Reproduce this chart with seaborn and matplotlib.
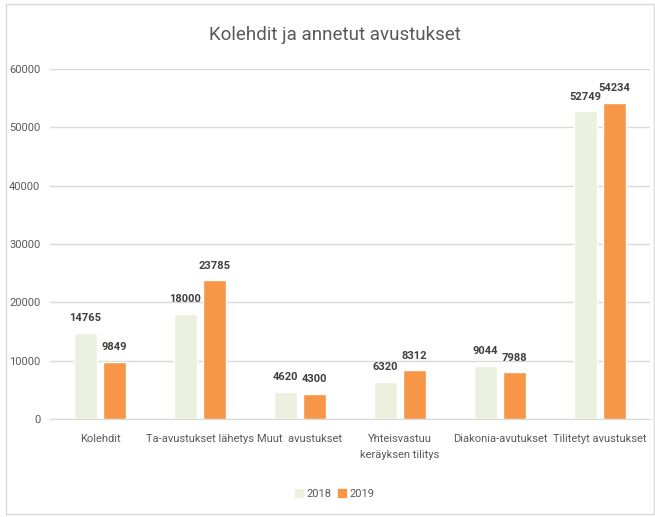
import matplotlib
matplotlib.use('Agg')
import matplotlib.pyplot as plt
import matplotlib.patches as mpatches
from matplotlib import font_manager
import pandas as pd
import seaborn as sns

categories = ["Kolehdit", "Ta-avustukset lähetys", "Muut  avustukset",
              "Yhteisvastuu\nkeräyksen tilitys", "Diakonia-avutukset",
              "Tilitetyt avustukset"]
values_2018 = [14765, 18000, 4620, 6320, 9044, 52749]
values_2019 = [9849, 23785, 4300, 8312, 7988, 54234]
years = ["2018", "2019"]
colors = ["#EBF1DE", "#F79646"]
text_color = "#595959"

df = pd.DataFrame({
    "category": categories * 2,
    "value": values_2018 + values_2019,
    "year": [years[0]] * len(categories) + [years[1]] * len(categories),
})

# pick a narrow-ish font (the original is a compressed Calibri)
installed = {f.name for f in font_manager.fontManager.ttflist}
main_font = next((f for f in ["Liberation Sans Narrow", "Roboto"] if f in installed),
                 "DejaVu Sans")

sns.set_style("white")
plt.rcParams['font.family'] = [main_font, 'DejaVu Sans']

fig = plt.figure(figsize=(6.55, 5.17), dpi=100)
ax = fig.add_axes([0.0763, 0.1896, 0.916, 0.677])

sns.barplot(data=df, x="category", y="value", hue="year", order=categories,
            hue_order=years, palette=colors, width=0.58, gap=0.207,
            saturation=1, ax=ax, legend=False)

# value labels above bars
for cont in ax.containers:
    ax.bar_label(cont, fmt="%d", padding=7, fontsize=8, fontweight="bold",
                 color="#404040")

ax.set_ylim(0, 60000)
ax.set_yticks(range(0, 60001, 10000))
ax.set_xlim(-0.5, 5.5)
ax.yaxis.grid(True, color="#D9D9D9", linewidth=1)
ax.set_axisbelow(True)
for s in ["top", "right", "left"]:
    ax.spines[s].set_visible(False)
ax.spines["bottom"].set_color("#D9D9D9")
ax.tick_params(axis="both", length=0, labelsize=8, colors=text_color)
ax.tick_params(axis="x", pad=11)
ax.tick_params(axis="y", pad=7)
for lbl in ax.get_xticklabels():
    lbl.set_linespacing(1.7)
ax.set_xlabel("")
ax.set_ylabel("")

fig.text(0.511, 0.932, "Kolehdit ja annetut avustukset", ha="center", va="center",
         fontsize=13.5, color=text_color)

handles = [mpatches.Patch(color=c, label=y) for c, y in zip(colors, years)]
fig.legend(handles=handles, loc="center", bbox_to_anchor=(0.511, 0.044), ncol=2,
           frameon=False, fontsize=8, handlelength=0.7, handleheight=0.7,
           handletextpad=0.3, columnspacing=0.6, labelcolor=text_color)

# chart border
fig.patches.append(mpatches.Rectangle((0.009, 0.005), 0.989, 0.988,
                                      transform=fig.transFigure, fill=False,
                                      edgecolor="#D9D9D9", linewidth=1))

fig.savefig("out.png", dpi=100)
